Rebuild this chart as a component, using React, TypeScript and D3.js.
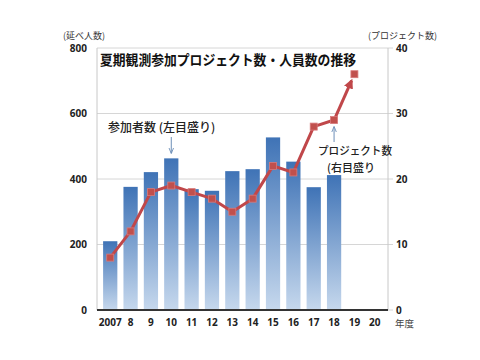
import React from "react";
import * as d3 from "d3";

const years = ["2007", "8", "9", "10", "11", "12", "13", "14", "15", "16", "17", "18", "19", "20"];
const participants = [210, 376, 421, 463, 369, 364, 424, 430, 527, 453, 375, 412];
const projects = [8, 12, 18, 19, 18, 17, 15, 17, 22, 21, 28, 29, 36];
const leftTicks = [0, 200, 400, 600, 800];
const rightTicks = [0, 10, 20, 30, 40];

const W = 480, H = 360;
const L = 97, R = 388, T = 48, B = 310;
const FONT = "'Noto Sans CJK JP', 'Noto Sans', sans-serif";
const NUMFONT = "'Noto Sans', 'DejaVu Sans', sans-serif";

export default function App() {
  const x = d3.scaleBand<string>().domain(years).range([L, R]).padding(0.3);
  const yL = d3.scaleLinear().domain([0, 800]).range([B, T]);
  const yR = d3.scaleLinear().domain([0, 40]).range([B, T]);
  const cx = (i: number) => (x(years[i]) as number) + x.bandwidth() / 2;

  const pts = projects.map((v, i) => [cx(i), yR(v)] as [number, number]);
  const line = d3.line();
  const mainPts = pts.slice(0, pts.length - 1);
  const p1 = pts[pts.length - 2];
  const p2 = pts[pts.length - 1];
  const dx = p2[0] - p1[0], dy = p2[1] - p1[1];
  const len = Math.hypot(dx, dy);
  const endPt: [number, number] = [p2[0] - (dx / len) * 7, p2[1] - (dy / len) * 7];
  const lineColor = "#c0474a";

  return (
    <svg width={W} height={H} style={{ position: "absolute", left: 0, top: 0, background: "#fff" }}>
      <defs>
        <linearGradient id="barGrad" x1="0" y1="0" x2="0" y2="1">
          <stop offset="0%" stopColor="#3f73b6" />
          <stop offset="100%" stopColor="#c6d8ed" />
        </linearGradient>
        <marker id="arrowHead" viewBox="0 0 10 10" refX="8" refY="5" markerWidth="3.2" markerHeight="3.2" orient="auto">
          <path d="M0,0 L10,5 L0,10 z" fill={lineColor} />
        </marker>
        <marker id="smallArrow" viewBox="0 0 10 10" refX="9" refY="5" markerWidth="6" markerHeight="6" orient="auto">
          <path d="M0,1 L10,5 L0,9" fill="none" stroke="#6d8fb8" strokeWidth="1.5" />
        </marker>
      </defs>

      {/* gridlines */}
      {leftTicks.filter((t) => t > 0).map((t) => (
        <line key={t} x1={L} x2={R + 5} y1={yL(t)} y2={yL(t)} stroke="#d6d6d6" strokeWidth={1} />
      ))}
      <line x1={L} x2={L} y1={T} y2={B} stroke="#c8c8c8" />
      <line x1={R} x2={R} y1={T} y2={B} stroke="#c8c8c8" />

      {/* bars */}
      {participants.map((v, i) => (
        <rect key={i} x={x(years[i])} y={yL(v)} width={x.bandwidth()} height={B - yL(v)} fill="url(#barGrad)" />
      ))}

      {/* axis baseline */}
      <line x1={L} x2={R} y1={B} y2={B} stroke="#333" strokeWidth={2} />
      <line x1={R} x2={R + 5} y1={B} y2={B} stroke="#d6d6d6" />

      {/* project line */}
      <path d={line(mainPts) || ""} fill="none" stroke={lineColor} strokeWidth={3} strokeLinejoin="round" />
      <path d={line([p1, endPt]) || ""} fill="none" stroke={lineColor} strokeWidth={3} markerEnd="url(#arrowHead)" />
      {pts.map((p, i) => (
        <rect key={i} x={p[0] - 3.5} y={p[1] - 3.5} width={7} height={7} fill="#c0504d" stroke="#d9797a" strokeWidth={0.8} />
      ))}

      {/* title */}
      <text x={100} y={65} fontFamily={FONT} fontWeight="bold" fontSize={14} fill="#111" textLength={256} lengthAdjust="spacingAndGlyphs">
        夏期観測参加プロジェクト数・人員数の推移
      </text>

      {/* left axis */}
      {leftTicks.map((t) => (
        <text key={t} x={87} y={yL(t) + 3.5} textAnchor="end" fontFamily={NUMFONT} fontWeight="bold" fontSize={10} fill="#222">
          {t}
        </text>
      ))}
      <text x={63} y={39} fontFamily={FONT} fontSize={9} fill="#333">(延べ人数)</text>

      {/* right axis */}
      {rightTicks.map((t) => (
        <text key={t} x={396} y={yR(t) + 3.5} fontFamily={NUMFONT} fontWeight="bold" fontSize={10} fill="#222">
          {t}
        </text>
      ))}
      <text x={368} y={39} fontFamily={FONT} fontSize={9} fill="#333">(プロジェクト数)</text>

      {/* x axis labels */}
      {years.map((y, i) => (
        <text key={y} x={cx(i)} y={326} textAnchor="middle" fontFamily={NUMFONT} fontWeight="bold" fontSize={10} fill="#222">
          {y}
        </text>
      ))}
      <text x={395} y={327} fontFamily={FONT} fontSize={9.5} fill="#444">年度</text>

      {/* annotations */}
      <text x={108} y={132} fontFamily={FONT} fontSize={12} fontWeight={500} fill="#222">参加者数 (左目盛り)</text>
      <line x1={cx(3)} x2={cx(3)} y1={137} y2={153} stroke="#6d8fb8" strokeWidth={1} markerEnd="url(#smallArrow)" />

      <text x={318} y={155} fontFamily={FONT} fontSize={11} fontWeight={500} fill="#222" textLength={74} lengthAdjust="spacingAndGlyphs">プロジェクト数</text>
      <text x={327} y={172} fontFamily={FONT} fontSize={11} fontWeight={500} fill="#222">(右目盛り</text>
      <line x1={cx(11)} x2={cx(11)} y1={142} y2={127} stroke="#6d8fb8" strokeWidth={1} markerEnd="url(#smallArrow)" />
    </svg>
  );
}
